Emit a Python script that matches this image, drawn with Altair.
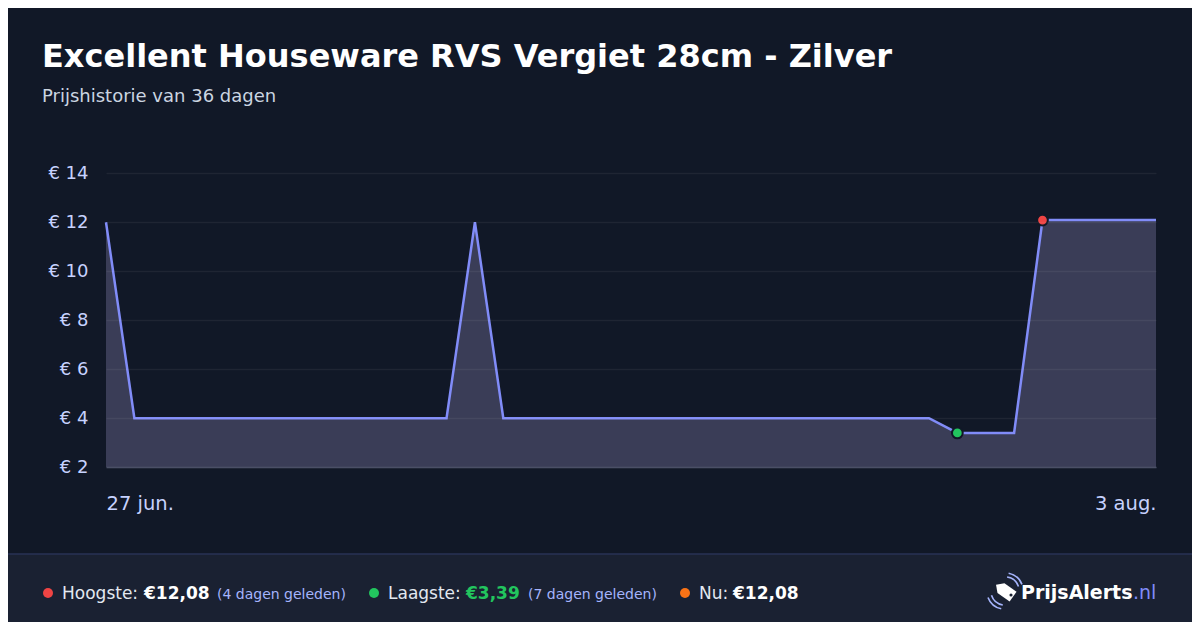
import altair as alt
import pandas as pd

# price history
dates = ["2025-06-27", "2025-06-28", "2025-07-09", "2025-07-10", "2025-07-11",
         "2025-07-26", "2025-07-27", "2025-07-29", "2025-07-30", "2025-08-03"]
prices = [11.99, 3.99, 3.99, 11.99, 3.99, 3.99, 3.39, 3.39, 12.08, 12.08]

marker_dates = ["2025-07-27", "2025-07-30"]
marker_prices = [3.39, 12.08]
marker_colors = ["#22c55e", "#ef4444"]

y_ticks = [2, 4, 6, 8, 10, 12, 14]

title_text = "Excellent Houseware RVS Vergiet 28cm - Zilver"
subtitle_text = "Prijshistorie van 36 dagen"

BG = "#111827"
FOOT = "#1a2132"
LINE = "#818cf8"
LABEL = "#c7d2fe"
FONT = "DejaVu Sans"

W, H = 1050, 294
PAD_L, PAD_T, PAD_R, PAD_B = 98, 165, 36, 155

df = pd.DataFrame({"date": dates, "price": prices})
mk = pd.DataFrame({"date": marker_dates, "price": marker_prices, "c": marker_colors})

x_enc = alt.X(
    "date:T",
    scale=alt.Scale(type="utc", nice=False),
    axis=alt.Axis(
        values=[alt.DateTime(year=2025, month=6, date=27, utc=True),
                alt.DateTime(year=2025, month=8, date=3, utc=True)],
        labelExpr="utcdate(datum.value) + ' ' + ['jan.','feb.','mrt.','apr.','mei','jun.','jul.','aug.','sep.','okt.','nov.','dec.'][utcmonth(datum.value)]",
        labelFlush=True,
        labelColor=LABEL,
        labelFontSize=19.5,
        labelFont=FONT,
        labelPadding=27,
        ticks=False,
        grid=False,
        domain=True,
        domainColor="#4a4f66",
        domainWidth=1.5,
        title=None,
        zindex=1,
    ),
    title=None,
)
y_enc = alt.Y(
    "price:Q",
    scale=alt.Scale(domain=[2, 14], nice=False, zero=False),
    axis=alt.Axis(
        values=y_ticks,
        labelExpr="'€ ' + datum.value",
        labelColor=LABEL,
        labelFontSize=18,
        labelFont=FONT,
        labelPadding=18,
        ticks=False,
        domain=False,
        gridColor="#ffffff",
        gridOpacity=0.06,
        gridWidth=1.5,
        title=None,
        zindex=1,
    ),
    title=None,
)

base = alt.Chart(df)
area = base.mark_area(color="#3a3d57", opacity=1).encode(x=x_enc, y=y_enc, y2=alt.datum(2))
line = base.mark_line(color=LINE, strokeWidth=2.5).encode(x="date:T", y="price:Q")
points = alt.Chart(mk).mark_circle(size=115, opacity=1, stroke=BG, strokeWidth=2).encode(
    x="date:T", y="price:Q", color=alt.Color("c:N", scale=None)
)

# decorations: header, footer bar, legend texts, logo
one = pd.DataFrame({"k": [0]})
deco = alt.Chart(one)

title = deco.mark_text(text=title_text, font=FONT, fontSize=32, fontWeight="bold",
                       color="#ffffff", align="left", baseline="alphabetic").encode(
    x=alt.value(-64), y=alt.value(-106))
subtitle = deco.mark_text(text=subtitle_text, font=FONT, fontSize=18,
                          color="#cbd5e1", align="left", baseline="alphabetic").encode(
    x=alt.value(-64), y=alt.value(-71))

footer = deco.mark_rect(color=FOOT).encode(
    x=alt.value(-PAD_L), x2=alt.value(W + PAD_R), y=alt.value(381), y2=alt.value(H + PAD_B))
footer_line = deco.mark_rule(color="#283256", strokeWidth=1.5).encode(
    x=alt.value(-PAD_L), x2=alt.value(W + PAD_R), y=alt.value(381))

FY = 426  # footer text baseline (relative to plot)
items = [
    # x, text, size, weight, color
    (-44, "Hoogste:", 17, "normal", "#e2e8f0"),
    (38, "€12,08", 17, "bold", "#ffffff"),
    (111, "(4 dagen geleden)", 14, "normal", "#a5b4fc"),
    (282, "Laagste:", 17, "normal", "#e2e8f0"),
    (360, "€3,39", 17, "bold", "#22c55e"),
    (422, "(7 dagen geleden)", 14, "normal", "#a5b4fc"),
    (593, "Nu:", 17, "normal", "#e2e8f0"),
    (627, "€12,08", 17, "bold", "#ffffff"),
    (915, "PrijsAlerts", 19, "bold", "#ffffff"),
    (1027, ".nl", 19, "normal", "#818cf8"),
]
texts = [
    deco.mark_text(text=t, font=FONT, fontSize=s, fontWeight=w, color=c,
                   align="left", baseline="alphabetic").encode(x=alt.value(xx), y=alt.value(FY))
    for xx, t, s, w, c in items
]
dots = [
    deco.mark_circle(size=100, color=c, opacity=1).encode(x=alt.value(xx), y=alt.value(FY - 6))
    for xx, c in [(-58, "#ef4444"), (268, "#22c55e"), (579, "#f97316")]
]

# logo icon: a tag with signal arcs
IX, IY = 899, 418
tag = deco.mark_point(
    shape="M -1 0 L -0.45 -0.55 L 0.9 -0.55 L 0.9 0.55 L -0.45 0.55 Z",
    filled=True, color="#ffffff", size=480, opacity=1, angle=35,
).encode(x=alt.value(IX), y=alt.value(IY))
hole = deco.mark_circle(size=10, color=FOOT, opacity=1).encode(
    x=alt.value(IX + 6), y=alt.value(IY + 4))
arcs = [
    deco.mark_arc(radius=r, radius2=r - 1.6, theta=t0, theta2=t1, color="#a5b4fc").encode(
        x=alt.value(IX), y=alt.value(IY))
    for r, t0, t1 in [(15, 0.15, 1.25), (19, 0.2, 1.2), (15, 3.3, 4.4), (19, 3.35, 4.35)]
]

chart = alt.layer(
    area, line, points, title, subtitle, footer, footer_line, *dots, *texts, tag, hole, *arcs
).properties(
    width=W, height=H,
    autosize=alt.AutoSizeParams(type="none"),
    padding={"left": PAD_L, "top": PAD_T, "right": PAD_R, "bottom": PAD_B},
    background=BG,
).configure_view(stroke=None)

chart.save("out.html", embed_options={"renderer": "svg", "actions": False})
